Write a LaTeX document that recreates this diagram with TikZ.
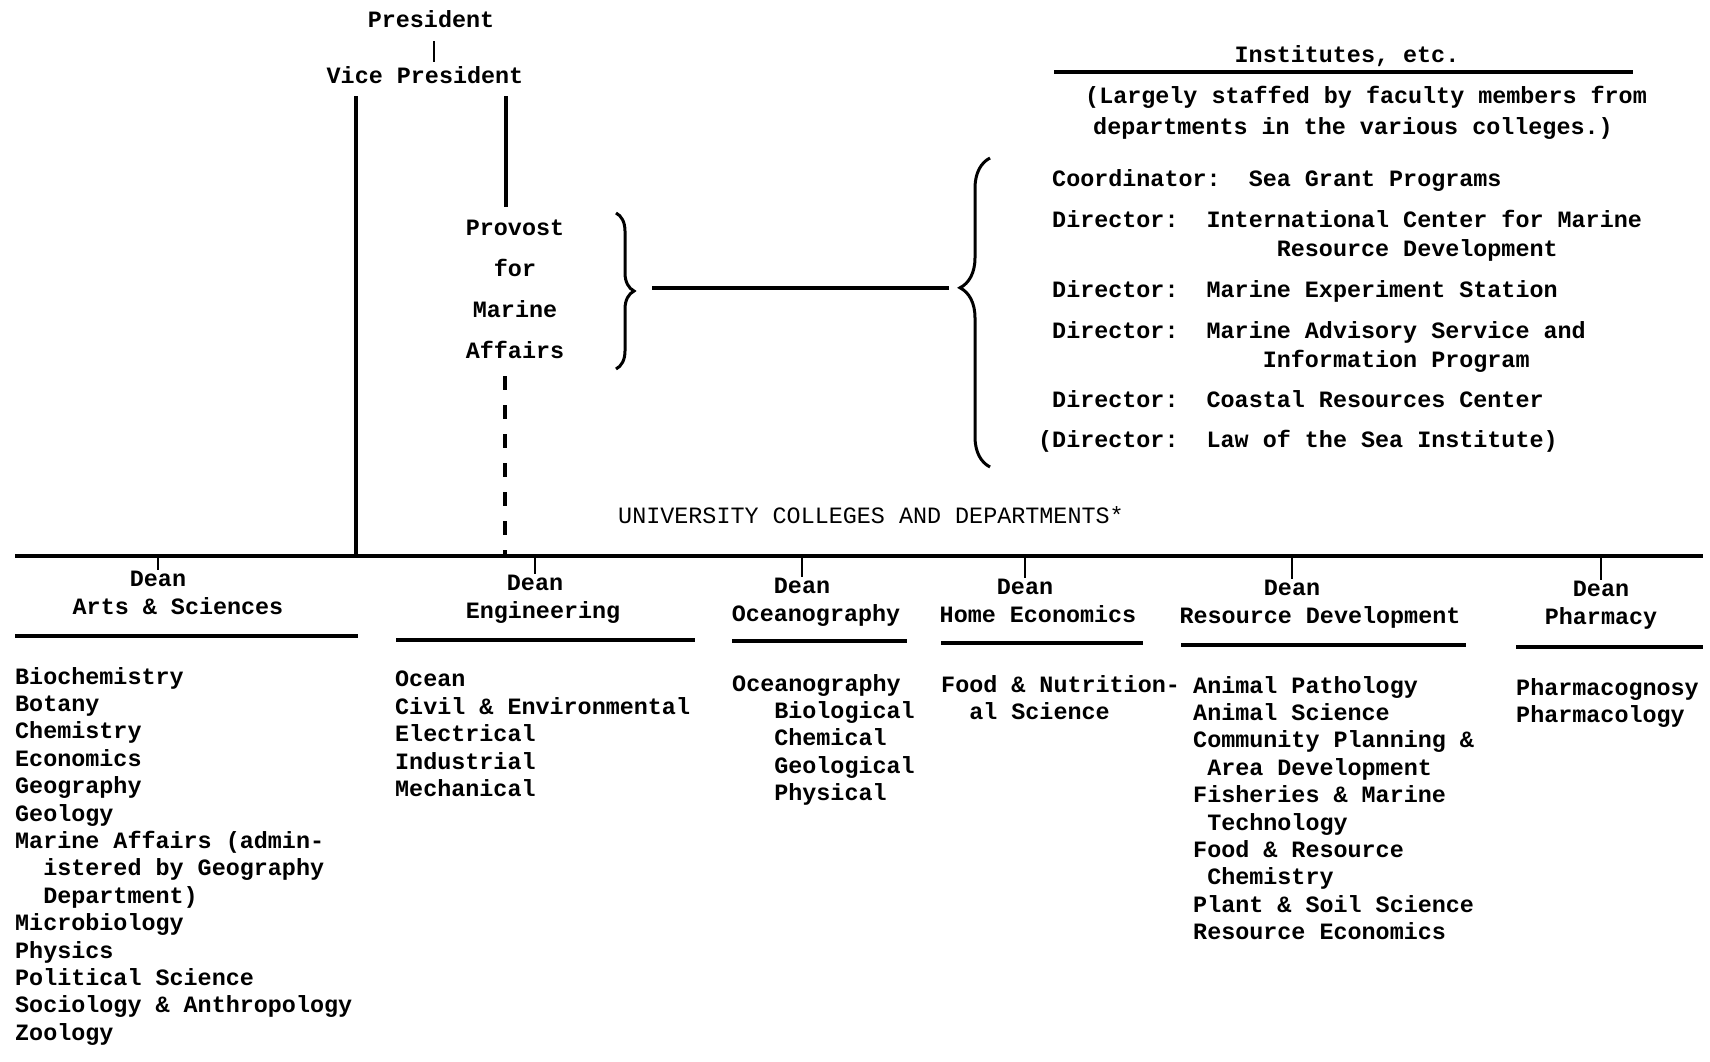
\documentclass[tikz,border=0pt]{standalone}
\usepackage{fontspec}
\setmainfont{Liberation Mono}
\usetikzlibrary{decorations.pathreplacing}

\newcommand\tw{\fontsize{23.4}{27.4}\selectfont\bfseries}
\newcommand\ind[1]{\hspace*{#1\dimexpr0.6em\relax}}

\tikzset{
  every node/.style={font=\tw, inner sep=0pt},
  lbl/.style={anchor=base},
  txt/.style={anchor=base west},
  top/.style={font=\tw},
  list/.style={anchor=north west, align=left},
  rule/.style={line width=3.2pt},
  tick/.style={line width=2pt},
  brc/.style={line width=3pt, decorate, decoration={brace, amplitude=#1}},
}

\begin{document}
\begin{tikzpicture}[x=1pt,y=-1pt]
\useasboundingbox (0,0) rectangle (1710,1061);

% president, vice president, provost
\node[lbl,top] (pres) at (431,27) {President};
\node[lbl,top] (vp) at (425,83) {Vice President};
\draw[tick] ([xshift=3pt,yshift=-14pt]pres.south) -- ([xshift=9pt,yshift=4pt]vp.north);
\node[anchor=north, align=center, font=\fontsize{23.4}{41}\selectfont\bfseries] (prov) at (515,220) {Provost\\for\\Marine\\Affairs};

\coordinate (main) at (15,556); \coordinate (mainr) at (1703,556);
\coordinate (vpl) at (356,96); \coordinate (vpr) at (506,96);
\coordinate (dsh) at (505,376);
\draw[rule] (main) -- (mainr);
\draw[rule] (vpl) -- (vpl |- main);
\draw[rule] (vpr) -- (506,207);
\draw[rule, dash pattern=on 14pt off 15pt] (dsh) -- (dsh |- main);

% braces and the link to the institutes
\draw[brc=18pt] (616,213) -- (616,369);
\draw[brc=30pt, decoration={aspect=0.58}] (990,467) -- (990,158);
\coordinate (tipl) at (652,288); \coordinate (tipr) at (949,288);
\draw[rule] (tipl) -- (tipr);

% institutes
\node[lbl] (inst) at (1347,62) {Institutes, etc.};
\draw[rule] (1054,72) -- (1633,72);
\node[txt] (note1) at (1085,103) {(Largely staffed by faculty members from};
\node[txt] (note2) at (1093,134) {departments in the various colleges.)};
\node[list, font=\fontsize{23.4}{29}\selectfont\bfseries] (dirs) at (1052,169) {Coordinator:~~Sea Grant Programs\\[12pt]
Director:~~International Center for Marine\\
\ind{16}Resource Development\\[12pt]
Director:~~Marine Experiment Station\\[12pt]
Director:~~Marine Advisory Service and\\
\ind{15}Information Program\\[11pt]
Director:~~Coastal Resources Center\\[11pt]
\llap{(}Director:~~Law of the Sea Institute)};

\node[lbl, font=\fontsize{23.4}{27.4}\selectfont] (univ) at (871,523) {UNIVERSITY COLLEGES AND DEPARTMENTS*};

% deans
\foreach \n/\dx/\dy/\cx/\col in {as/158/586/178/Arts \& Sciences, en/535/590/543/Engineering,
  oc/802/593/816/Oceanography, he/1025/594/1038/Home Economics,
  rd/1292/595/1320/Resource Development, ph/1601/596/1601/Pharmacy}{
  \node[lbl] (d\n) at (\dx,\dy) {Dean};
  \node[lbl] (c\n) at (\cx,\dy+28) {\col};
  \draw[tick] (d\n.north |- main) -- (d\n.north);
}
\foreach \a/\b/\y in {15/358/636, 396/695/640, 732/907/641, 941/1143/643, 1181/1466/645, 1516/1703/647}
  \draw[rule] (\a,\y) -- (\b,\y);

% departments
\node[list] (las) at (15,667) {Biochemistry\\Botany\\Chemistry\\Economics\\Geography\\Geology\\
Marine Affairs (admin-\\\ind{2}istered by Geography\\\ind{2}Department)\\Microbiology\\Physics\\
Political Science\\Sociology \& Anthropology\\Zoology};
\node[list] (len) at (395,671) {Ocean\\Civil \& Environmental\\Electrical\\Industrial\\Mechanical};
\node[list] (loc) at (732,674) {Oceanography\\\ind{3}Biological\\\ind{3}Chemical\\\ind{3}Geological\\\ind{3}Physical};
\node[list] (lhe) at (941,675) {Food \& Nutrition-\\\ind{2}al Science};
\node[list] (lrd) at (1193,676) {Animal Pathology\\Animal Science\\Community Planning \&\\\ind{1}Area Development\\
Fisheries \& Marine\\\ind{1}Technology\\Food \& Resource\\\ind{1}Chemistry\\Plant \& Soil Science\\Resource Economics};
\node[list] (lph) at (1516,678) {Pharmacognosy\\Pharmacology};
\end{tikzpicture}
\end{document}
